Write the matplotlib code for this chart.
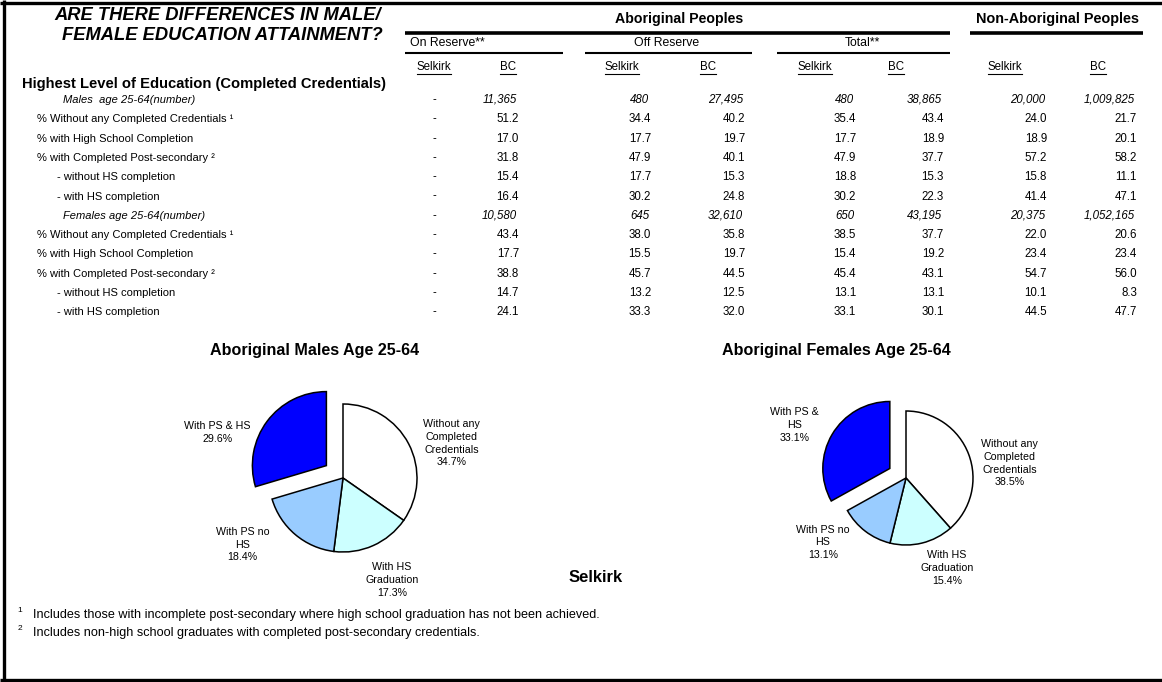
import matplotlib.pyplot as plt

plt.rcParams['font.family'] = ['Liberation Sans', 'DejaVu Sans']

# ---- table data ----
row_labels = ['Males  age 25-64(number)',
              '% Without any Completed Credentials \u00b9',
              '% with High School Completion',
              '% with Completed Post-secondary \u00b2',
              '- without HS completion',
              '- with HS completion',
              'Females age 25-64(number)',
              '% Without any Completed Credentials \u00b9',
              '% with High School Completion',
              '% with Completed Post-secondary \u00b2',
              '- without HS completion',
              '- with HS completion']
row_kind = ['count', 'pct', 'pct', 'pct', 'sub', 'sub',
            'count', 'pct', 'pct', 'pct', 'sub', 'sub']

on_res_selkirk = [None] * 12
on_res_bc = [11365, 51.2, 17.0, 31.8, 15.4, 16.4, 10580, 43.4, 17.7, 38.8, 14.7, 24.1]
off_res_selkirk = [480, 34.4, 17.7, 47.9, 17.7, 30.2, 645, 38.0, 15.5, 45.7, 13.2, 33.3]
off_res_bc = [27495, 40.2, 19.7, 40.1, 15.3, 24.8, 32610, 35.8, 19.7, 44.5, 12.5, 32.0]
total_selkirk = [480, 35.4, 17.7, 47.9, 18.8, 30.2, 650, 38.5, 15.4, 45.4, 13.1, 33.1]
total_bc = [38865, 43.4, 18.9, 37.7, 15.3, 22.3, 43195, 37.7, 19.2, 43.1, 13.1, 30.1]
nonab_selkirk = [20000, 24.0, 18.9, 57.2, 15.8, 41.4, 20375, 22.0, 23.4, 54.7, 10.1, 44.5]
nonab_bc = [1009825, 21.7, 20.1, 58.2, 11.1, 47.1, 1052165, 20.6, 23.4, 56.0, 8.3, 47.7]

columns = [on_res_selkirk, on_res_bc, off_res_selkirk, off_res_bc,
           total_selkirk, total_bc, nonab_selkirk, nonab_bc]
col_names = ['Selkirk', 'BC'] * 4
groups = ['On Reserve**', 'Off Reserve', 'Total**']

# ---- pie data ----
slice_names = ['Without any\nCompleted\nCredentials', 'With HS\nGraduation',
               'With PS no\nHS', 'With PS & HS']
slice_names_f = ['Without any\nCompleted\nCredentials', 'With HS\nGraduation',
                 'With PS no\nHS', 'With PS &\nHS']
males_pct = [34.7, 17.3, 18.4, 29.6]
females_pct = [38.5, 15.4, 13.1, 33.1]
slice_colors = ['white', '#CCFFFF', '#99CCFF', '#0000FF']
footnotes = ['Includes those with incomplete post-secondary where high school graduation has not been achieved.',
             'Includes non-high school graduates with completed post-secondary credentials.']

# ---- layout (pixels) ----
W, H = 1162, 682
fig = plt.figure(figsize=(W / 100, H / 100), dpi=100)
ax = fig.add_axes([0, 0, 1, 1])
ax.set_xlim(0, W)
ax.set_ylim(H, 0)
ax.axis('off')

# frame
ax.plot([4, 4], [0, H], color='black', lw=2.4, solid_capstyle='butt')
ax.plot([0, W], [3, 3], color='black', lw=2.4, solid_capstyle='butt')
ax.plot([0, W], [680, 680], color='black', lw=2.4, solid_capstyle='butt')

# title
ax.text(381, 16, 'ARE THERE DIFFERENCES IN MALE/', fontsize=13.2, fontweight='bold',
        fontstyle='italic', va='center', ha='right')
ax.text(383, 35, 'FEMALE EDUCATION ATTAINMENT?', fontsize=13.2, fontweight='bold',
        fontstyle='italic', va='center', ha='right')

# column group headers
ax.text(679, 19, 'Aboriginal Peoples', fontsize=10.2, fontweight='bold', ha='center', va='center')
ax.text(1057, 19, 'Non-Aboriginal Peoples', fontsize=10.4, fontweight='bold', ha='center', va='center')
ax.plot([405, 950], [33, 33], color='black', lw=2.6, solid_capstyle='butt')
ax.plot([970, 1143], [33, 33], color='black', lw=2.6, solid_capstyle='butt')

group_x = [447, 667, 862]
group_lines = [(405, 563), (585, 752), (777, 950)]
for name, gx, (x0, x1) in zip(groups, group_x, group_lines):
    ax.text(gx, 43, name, fontsize=8.8, ha='center', va='center')
    ax.plot([x0, x1], [53, 53], color='black', lw=1.5, solid_capstyle='butt')

col_head_x = [434, 508, 622, 708, 815, 896, 1005, 1098]
col_right_x = [437, 519, 651, 745, 856, 944, 1047, 1137]

fig.canvas.draw()
renderer = fig.canvas.get_renderer()
inv = ax.transData.inverted()
for name, cx in zip(col_names, col_head_x):
    t = ax.text(cx, 67, name, fontsize=8.3, ha='center', va='center')
    bb = t.get_window_extent(renderer)
    (x0, y0), (x1, y1) = inv.transform([[bb.x0, bb.y0], [bb.x1, bb.y1]])
    ax.plot([x0, x1], [y0 + 1, y0 + 1], color='black', lw=0.8)

ax.text(22, 84, 'Highest Level of Education (Completed Credentials)', fontsize=10.6,
        fontweight='bold', ha='left', va='center')

label_x = {'count': 63, 'pct': 37, 'sub': 57}
row_y0, row_dy = 100, 19.3
for i, (lab, kind) in enumerate(zip(row_labels, row_kind)):
    y = row_y0 + i * row_dy
    italic = 'italic' if kind == 'count' else 'normal'
    ax.text(label_x[kind], y, lab, fontsize=8, fontstyle=italic, ha='left', va='center')
    for col, rx in zip(columns, col_right_x):
        v = col[i]
        if v is None:
            ax.text(rx - 3, y, '-', fontsize=8.3, ha='center', va='center')
        elif kind == 'count':
            ax.text(rx - 2, y, f'{v:,}', fontsize=8.3, fontstyle='italic', ha='right', va='center')
        else:
            ax.text(rx, y, f'{v:.1f}', fontsize=8.3, ha='right', va='center')

# pie titles
ax.text(315, 351, 'Aboriginal Males Age 25-64', fontsize=11.6, fontweight='bold', ha='center', va='center')
ax.text(836, 351, 'Aboriginal Females Age 25-64', fontsize=11.6, fontweight='bold', ha='center', va='center')
ax.text(596, 577, 'Selkirk', fontsize=12, fontweight='bold', ha='center', va='center')

# footnotes
for k, (note, fy) in enumerate(zip(footnotes, [615, 633])):
    ax.text(20, fy - 5, str(k + 1), fontsize=6, ha='center', va='center')
    ax.text(33, fy, note, fontsize=9.1, ha='left', va='center')


def draw_pie(cx, cy, r, values, names, label_pos):
    side = 2.5 * r
    pax = fig.add_axes([(cx - side / 2) / W, 1 - (cy + side / 2) / H, side / W, side / H])
    pax.pie(values, colors=slice_colors, startangle=90, counterclock=False,
            explode=[0, 0, 0, 0.28],
            wedgeprops=dict(edgecolor='black', linewidth=1.1))
    for name, v, (lx, ly) in zip(names, values, label_pos):
        pax.text(lx, ly, f'{name}\n{v:.1f}%', fontsize=7.7, ha='center', va='center',
                 linespacing=1.35)


draw_pie(343, 478, 74, males_pct, slice_names,
         [(1.47, 0.47), (0.66, -1.38), (-1.36, -0.90), (-1.70, 0.61)])
draw_pie(906, 478, 67, females_pct, slice_names_f,
         [(1.55, 0.22), (0.61, -1.34), (-1.24, -0.96), (-1.66, 0.79)])

fig.savefig('out.png', dpi=100)
